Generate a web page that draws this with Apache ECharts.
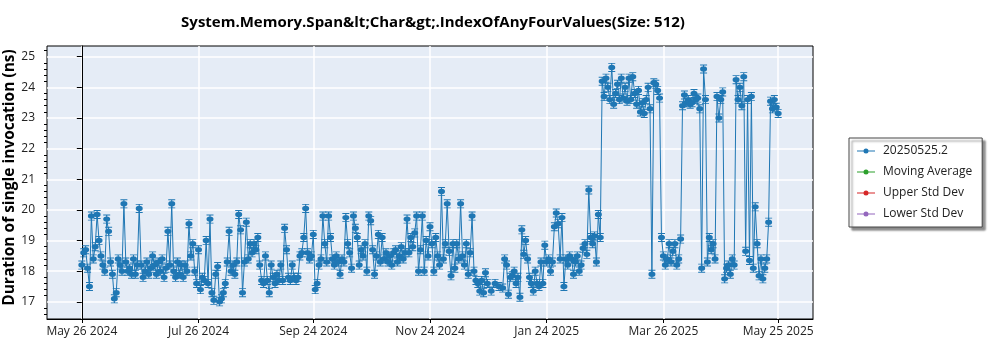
<!DOCTYPE html>
<html>
<head>
<meta charset="utf-8">
<script src="https://cdn.jsdelivr.net/npm/echarts@6/dist/echarts.min.js"></script>
<style>
  html, body { margin: 0; padding: 0; background: #fff; }
  #chart { width: 1000px; height: 350px; }
</style>
</head>
<body>
<div id="chart"></div>
<script>
// Benchmark run history: days since the first run and the measured duration (ns)
const startDate = '2024-05-26';
const runDays = [
  0, 1, 2, 3, 4, 5, 6, 7, 8, 9,
  10, 11, 12, 13, 14, 15, 16, 17, 18, 19,
  20, 21, 22, 23, 24, 25, 26, 27, 28, 29,
  30, 31, 32, 33, 34, 35, 36, 37, 38, 39,
  40, 41, 42, 43, 44, 45, 46, 47, 48, 49,
  50, 51, 52, 53, 54, 55, 56, 57, 58, 59,
  60, 61, 62, 63, 64, 65, 66, 67, 68, 69,
  70, 71, 72, 73, 74, 75, 76, 77, 78, 79,
  80, 81, 82, 83, 84, 85, 86, 87, 88, 89,
  90, 91, 92, 93, 94, 95, 96, 97, 98, 99,
  100, 101, 102, 103, 104, 105, 106, 107, 108, 109,
  110, 111, 112, 113, 114, 115, 116, 117, 118, 119,
  120, 121, 122, 123, 124, 125, 126, 127, 128, 129,
  130, 131, 132, 133, 134, 135, 136, 137, 138, 139,
  140, 141, 142, 143, 144, 145, 146, 147, 148, 149,
  150, 151, 152, 153, 154, 155, 156, 157, 158, 159,
  160, 161, 162, 163, 164, 165, 166, 167, 168, 169,
  170, 171, 172, 173, 174, 175, 176, 177, 178, 179,
  180, 181, 182, 183, 184, 185, 186, 187, 188, 189,
  190, 191, 192, 193, 194, 195, 196, 197, 198, 199,
  200, 201, 202, 203, 204, 205, 206, 207, 208, 209,
  210, 211, 212, 214, 216, 218, 220, 221, 222, 223,
  224, 225, 226, 227, 228, 229, 230, 231, 232, 233,
  234, 235, 236, 237, 238, 239, 240, 241, 242, 243,
  244, 245, 246, 247, 248, 249, 250, 251, 252, 253,
  254, 255, 256, 257, 258, 259, 260, 261, 262, 263,
  264, 265, 266, 267, 268, 269, 270, 271, 272, 273,
  274, 275, 276, 277, 278, 279, 280, 281, 282, 283,
  284, 285, 286, 287, 288, 289, 290, 291, 292, 293,
  294, 295, 296, 297, 298, 299, 300, 301, 302, 303,
  304, 305, 306, 307, 308, 309, 310, 311, 312, 313,
  314, 315, 316, 317, 318, 319, 320, 321, 322, 323,
  324, 325, 326, 327, 328, 329, 330, 331, 332, 333,
  334, 335, 336, 337, 338, 339, 340, 341, 342, 343,
  344, 345, 346, 347, 348, 349, 350, 351, 352, 353,
  354, 355, 356, 357, 358, 359, 360, 361, 362, 363,
  364
];
const durations = [
  18.2, 18.6, 18.7, 18.1, 17.5, 19.8, 18.4, 18.8, 19.85, 19.0,
  18.5, 18.2, 18.0, 19.7, 19.3, 18.3, 17.9, 17.1, 17.3, 18.4,
  18.2, 18.0, 20.2, 18.3, 18.0, 18.1, 17.9, 18.4, 17.9, 18.2,
  20.05, 18.2, 17.8, 18.0, 18.3, 17.9, 18.1, 18.5, 18.2, 17.9,
  18.3, 18.0, 18.4, 17.8, 18.1, 19.3, 18.2, 20.2, 18.0, 17.8,
  18.3, 17.9, 18.2, 17.8, 18.2, 18.0, 19.55, 18.5, 18.9, 18.0,
  17.6, 18.7, 17.4, 17.8, 17.7, 19.0, 17.6, 19.7, 17.3, 17.05,
  17.9, 18.15, 17.0, 17.1, 17.3, 17.6, 18.3, 19.3, 18.0, 18.2,
  17.9, 18.3, 19.85, 19.35, 17.3, 18.3, 19.6, 18.4, 18.9, 18.6,
  18.9, 18.7, 19.1, 18.2, 17.7, 17.6, 18.5, 17.7, 17.3, 18.2,
  17.8, 17.6, 17.9, 17.7, 18.2, 17.7, 19.4, 18.7, 17.8, 17.7,
  18.2, 17.8, 17.7, 17.8, 18.5, 18.6, 19.1, 20.05, 18.6, 18.4,
  18.5, 19.2, 17.4, 17.6, 18.2, 18.4, 19.8, 18.9, 18.3, 19.8,
  19.1, 18.4, 18.2, 18.5, 18.3, 17.9, 18.4, 18.3, 19.75, 18.9,
  18.6, 18.1, 19.8, 19.4, 19.1, 18.2, 18.7, 18.5, 18.9, 18.0,
  19.8, 19.65, 18.7, 17.9, 18.5, 19.2, 18.3, 19.1, 18.4, 18.6,
  18.3, 18.5, 18.2, 18.6, 18.7, 18.3, 18.5, 18.8, 18.4, 18.6,
  19.7, 18.6, 19.1, 18.8, 19.25, 19.8, 18.0, 18.7, 19.8, 18.0,
  19.0, 18.5, 19.45, 18.9, 18.0, 19.1, 18.5, 18.2, 20.6, 18.4,
  18.9, 20.2, 18.65, 17.85, 18.9, 18.1, 18.9, 18.4, 20.2, 18.5,
  18.2, 18.9, 17.9, 18.6, 19.8, 18.0, 17.7, 17.6, 17.35, 17.7,
  17.3, 17.95, 17.6, 17.35, 17.6, 17.5, 17.45, 18.4, 18.2, 17.25,
  17.8, 17.85, 18.0, 17.6, 17.8, 17.15, 19.35, 18.55, 19.0, 18.4,
  17.8, 17.6, 17.35, 18.0, 17.6, 17.5, 18.3, 17.6, 18.85, 18.3,
  18.4, 18.0, 18.3, 19.45, 19.9, 19.55, 18.4, 19.75, 17.5, 18.4,
  18.2, 18.5, 18.4, 17.9, 18.3, 18.5, 18.0, 18.2, 18.75, 18.9,
  18.55, 20.65, 19.1, 18.9, 19.15, 18.3, 19.85, 19.1, 24.2, 23.7,
  24.3, 24.0, 23.6, 24.65, 23.45, 23.8, 24.1, 23.6, 24.3, 23.65,
  24.0, 23.55, 24.3, 23.6, 24.35, 23.8, 23.45, 23.9, 23.2, 23.5,
  23.15, 23.6, 24.0, 23.3, 17.9, 24.15, 24.1, 23.9, 23.65, 19.1,
  18.5, 18.2, 18.4, 18.9, 18.3, 18.65, 18.9, 18.2, 18.4, 19.05,
  23.4, 23.75, 23.5, 23.6, 23.45, 23.5, 23.8, 23.6, 23.65, 23.3,
  18.1, 24.6, 23.6, 18.3, 19.1, 18.7, 18.9, 18.4, 23.7, 23.0,
  23.6, 23.85, 17.75, 18.1, 18.2, 17.9, 18.4, 18.2, 24.25, 23.6,
  24.0, 23.4, 24.35, 18.65, 23.6, 18.35, 23.7, 18.1, 20.1, 18.9,
  17.85, 18.4, 17.75, 18.1, 18.4, 19.6, 23.55, 23.3, 23.6, 23.35,
  23.15
];

// Date axis labels, and the value-axis ticks
const xTickLabels = ['May 26 2024', 'Jul 26 2024', 'Sep 24 2024', 'Nov 24 2024',
                     'Jan 24 2025', 'Mar 26 2025', 'May 25 2025'];
const yTicks = [17, 18, 19, 20, 21, 22, 23, 24, 25];
const yMinorTicks = [16.6, 16.8, 17.2, 17.4, 17.6, 17.8, 18.2, 18.4, 18.6, 18.8,
  19.2, 19.4, 19.6, 19.8, 20.2, 20.4, 20.6, 20.8, 21.2, 21.4, 21.6, 21.8,
  22.2, 22.4, 22.6, 22.8, 23.2, 23.4, 23.6, 23.8, 24.2, 24.4, 24.6, 24.8, 25.2];

const seriesNames = ['20250525.2', 'Moving Average', 'Upper Std Dev', 'Lower Std Dev'];
const seriesColors = ['#1f77b4', '#2ca02c', '#d62728', '#9467bd'];

const DAY_MS = 86400000;
const t0 = Date.parse(startDate + 'T00:00:00Z');
const monthIdx = { Jan: 0, Feb: 1, Mar: 2, Apr: 3, May: 4, Jun: 5, Jul: 6, Aug: 7, Sep: 8, Oct: 9, Nov: 10, Dec: 11 };
const xTickDays = xTickLabels.map(s => {
  const [m, d, y] = s.split(' ');
  return Math.round((Date.UTC(+y, monthIdx[m], +d) - t0) / DAY_MS);
});
const labelByDay = {};
xTickDays.forEach((d, i) => { labelByDay[d] = xTickLabels[i]; });

const points = runDays.map((d, i) => [d, durations[i]]);
const span = runDays[runDays.length - 1] - runDays[0];
const pad = span * 0.05;

// circle marker with small error-bar caps above and below
const markerPath = 'path://M1,0H7V1H1Z M3.5,1H4.5V2.2H3.5Z M1,5A3,3 0 1,1 7,5A3,3 0 1,1 1,5Z M3.5,7.8H4.5V9H3.5Z M1,9H7V10H1Z';
// legend key: short line with a dot in the middle
const legendIcon = 'path://M0,4.4H18V5.6H0Z M6.5,5A2.5,2.5 0 1,1 11.5,5A2.5,2.5 0 1,1 6.5,5Z';

const font = '"Open Sans", "Noto Sans", sans-serif';
const chart = echarts.init(document.getElementById('chart'), null, { renderer: 'canvas' });

const series = seriesNames.map((name, i) => ({
  name: name,
  type: 'line',
  data: i === 0 ? points : [],
  color: seriesColors[i],
  symbol: i === 0 ? markerPath : 'circle',
  symbolSize: i === 0 ? [7, 9] : 6,
  showAllSymbol: true,
  lineStyle: { width: 1, color: seriesColors[i] },
  itemStyle: { color: seriesColors[i] },
  emphasis: { disabled: true },
  animation: false,
  z: 3
}));

chart.setOption({
  animation: false,
  textStyle: { fontFamily: font },
  title: {
    text: 'System.Memory.Span&lt;Char&gt;.IndexOfAnyFourValues(Size: 512)',
    left: 428,
    textAlign: 'center',
    top: 10,
    textStyle: { fontFamily: font, fontSize: 15, fontWeight: 'bold', color: '#000' }
  },
  legend: {
    orient: 'vertical',
    left: 849,
    top: 138,
    width: 125,
    padding: [7, 10, 7, 8],
    itemGap: 9,
    itemWidth: 18,
    itemHeight: 10,
    backgroundColor: '#fff',
    borderColor: '#444',
    borderWidth: 1,
    shadowColor: 'rgba(0,0,0,0.45)',
    shadowOffsetX: 3,
    shadowOffsetY: 3,
    shadowBlur: 2,
    data: seriesNames.map(n => ({ name: n, icon: legendIcon })),
    itemStyle: { borderWidth: 0 },
    textStyle: { fontFamily: font, fontSize: 12, color: '#222', padding: [0, 0, 0, 3] }
  },
  grid: {
    left: 47, right: 187, top: 46, bottom: 31,
    outerBoundsMode: 'none',
    containLabel: false,
    show: true,
    backgroundColor: '#E5ECF6',
    borderColor: '#000',
    borderWidth: 1
  },
  xAxis: {
    type: 'value',
    min: runDays[0] - pad,
    max: runDays[runDays.length - 1] + pad,
    axisLine: { show: true, onZero: false, lineStyle: { color: '#000' } },
    axisTick: { show: true, length: 4, customValues: xTickDays, lineStyle: { color: '#000' } },
    axisLabel: {
      customValues: xTickDays,
      margin: 7,
      fontSize: 12,
      color: '#222',
      fontFamily: font,
      formatter: v => labelByDay[Math.round(v)] || ''
    },
    splitLine: { show: true, lineStyle: { color: '#fff', width: 1.5 } }
  },
  yAxis: [{
    type: 'value',
    min: 16.44,
    max: 25.35,
    name: 'Duration of single invocation (ns)',
    nameLocation: 'middle',
    nameGap: 29,
    nameMoveOverlap: false,
    nameTextStyle: { fontFamily: font, fontSize: 15.5, fontWeight: 'bold', color: '#000', padding: [0, 0, 0, 10] },
    axisLine: { show: true, lineStyle: { color: '#000' } },
    axisTick: { show: true, length: 5, customValues: yTicks, lineStyle: { color: '#000' } },
    axisLabel: { customValues: yTicks, margin: 12, fontSize: 12, color: '#222', fontFamily: font },
    splitLine: { show: true, lineStyle: { color: '#fff', width: 1.5 } }
  }, {
    type: 'value',
    position: 'left',
    min: 16.44,
    max: 25.35,
    axisLine: { show: false },
    axisTick: { show: true, length: 3, customValues: yMinorTicks, lineStyle: { color: '#000' } },
    axisLabel: { show: false },
    splitLine: { show: false }
  }],
  series: series
});
</script>
</body>
</html>
